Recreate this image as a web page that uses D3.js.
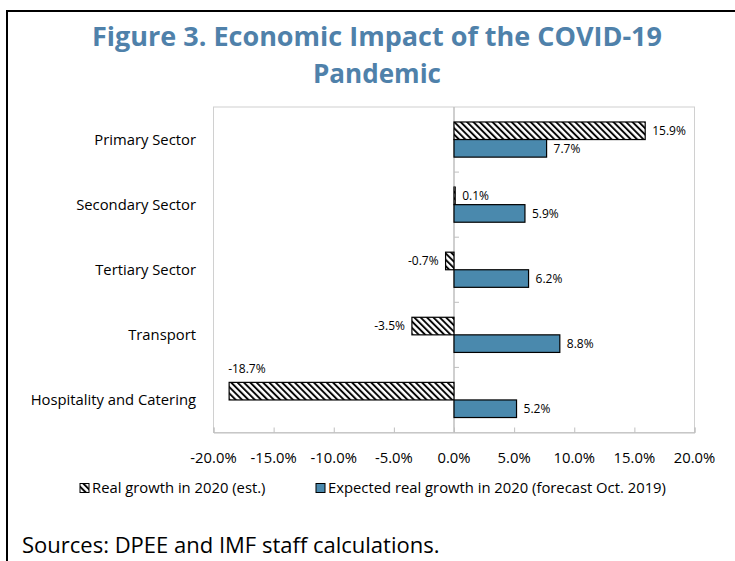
<!DOCTYPE html>
<html>
<head>
<meta charset="utf-8">
<script src="https://cdn.jsdelivr.net/npm/d3@7"></script>
<style>
  body { margin: 0; background: #fff; }
  text { font-family: "Open Sans", "Noto Sans", sans-serif; }
</style>
</head>
<body>
<script>
  // chart data
  var categories = ["Primary Sector", "Secondary Sector", "Tertiary Sector", "Transport", "Hospitality and Catering"];
  var realGrowth = [15.9, 0.1, -0.7, -3.5, -18.7];
  var expectedGrowth = [7.7, 5.9, 6.2, 8.8, 5.2];
  var seriesNames = ["Real growth in 2020 (est.)", "Expected real growth in 2020 (forecast Oct. 2019)"];
  var xTicks = [-20, -15, -10, -5, 0, 5, 10, 15, 20];

  var width = 735, height = 561;
  var blue = "#4a89ad";

  // plain hyphen instead of unicode minus
  var fmt = function(v) { return d3.format(".1f")(v).replace("\u2212", "-") + "%"; };

  var svg = d3.select("body").append("svg")
      .attr("width", width)
      .attr("height", height);

  // hatch pattern
  var defs = svg.append("defs");
  defs.append("pattern")
      .attr("id", "hatch")
      .attr("patternUnits", "userSpaceOnUse")
      .attr("width", 4.5).attr("height", 4.5)
      .attr("patternTransform", "rotate(-45)")
    .call(function(p) {
      p.append("rect").attr("width", 4.5).attr("height", 4.5).attr("fill", "#fff");
      p.append("line").attr("x1", 1).attr("y1", 0).attr("x2", 1).attr("y2", 4.5)
        .attr("stroke", "#000").attr("stroke-width", 1.9);
    });

  // frame
  svg.append("line").attr("x1", 6).attr("y1", 11).attr("x2", 735).attr("y2", 11)
    .attr("stroke", "#000").attr("stroke-width", 2);
  svg.append("line").attr("x1", 7).attr("y1", 10).attr("x2", 7).attr("y2", 561)
    .attr("stroke", "#000").attr("stroke-width", 2);

  // title
  var titleLines = ["Figure 3. Economic Impact of the COVID-19", "Pandemic"];
  var titleWidths = [570, 128];
  svg.selectAll(".title").data(titleLines).enter()
    .append("text")
      .attr("class", "title")
      .attr("x", 377)
      .attr("y", function(d, i) { return 46 + i * 37; })
      .attr("text-anchor", "middle")
      .attr("font-size", 27)
      .attr("font-weight", 700)
      .attr("fill", "#4f81aa")
      .attr("textLength", function(d, i) { return titleWidths[i]; })
      .attr("lengthAdjust", "spacingAndGlyphs")
      .text(function(d) { return d; });

  var plotLeft = 213.5, plotRight = 694.5, plotTop = 107, plotBottom = 432.5;

  var x = d3.scaleLinear().domain([-20, 20]).range([plotLeft, plotRight]);
  var y = d3.scaleBand().domain(categories).range([plotTop, plotBottom])
      .paddingInner(0.46).paddingOuter(0.23);
  var ySub = d3.scaleBand().domain([0, 1]).range([0, y.bandwidth()]);

  // plot box
  svg.append("rect")
    .attr("x", plotLeft).attr("y", plotTop)
    .attr("width", plotRight - plotLeft).attr("height", plotBottom - plotTop)
    .attr("fill", "none").attr("stroke", "#d0d0d0").attr("stroke-width", 1);

  // x axis
  var xAxis = svg.append("g")
      .attr("transform", "translate(0," + plotBottom + ")")
      .call(d3.axisTop(x).tickValues(xTicks).tickSize(5).tickFormat(""));
  xAxis.select(".domain").attr("stroke", "#bfbfbf");
  xAxis.selectAll(".tick line").attr("stroke", "#bfbfbf");

  svg.selectAll(".xlab").data(xTicks).enter()
    .append("text")
      .attr("class", "xlab")
      .attr("x", function(d) { return x(d); })
      .attr("y", 463)
      .attr("text-anchor", "middle")
      .attr("font-size", 14.8)
      .attr("fill", "#000")
      .text(fmt);

  // zero axis with ticks at band boundaries
  var step = y.step();
  var bounds = d3.range(1, categories.length).map(function(i) { return plotTop + i * step; });
  svg.append("line")
    .attr("x1", x(0)).attr("x2", x(0)).attr("y1", plotTop).attr("y2", plotBottom)
    .attr("stroke", "#bfbfbf").attr("stroke-width", 1.5);
  svg.selectAll(".ytick").data(bounds).enter()
    .append("line")
      .attr("x1", x(0)).attr("x2", x(0) + 5)
      .attr("y1", function(d) { return d; }).attr("y2", function(d) { return d; })
      .attr("stroke", "#bfbfbf");

  // category labels
  svg.selectAll(".cat").data(categories).enter()
    .append("text")
      .attr("class", "cat")
      .attr("x", 196)
      .attr("y", function(d) { return y(d) + y.bandwidth() / 2; })
      .attr("dy", "0.35em")
      .attr("text-anchor", "end")
      .attr("font-size", 14.8)
      .text(function(d) { return d; });

  var rows = [];
  categories.forEach(function(c, i) {
    rows.push({cat: c, s: 0, v: realGrowth[i]});
    rows.push({cat: c, s: 1, v: expectedGrowth[i]});
  });

  // bars
  svg.selectAll(".bar").data(rows).enter()
    .append("rect")
      .attr("class", "bar")
      .attr("x", function(d) { return x(Math.min(0, d.v)); })
      .attr("y", function(d) { return y(d.cat) + ySub(d.s); })
      .attr("width", function(d) { return Math.abs(x(d.v) - x(0)); })
      .attr("height", ySub.bandwidth())
      .attr("fill", function(d) { return d.s === 0 ? "url(#hatch)" : blue; })
      .attr("stroke", "#000")
      .attr("stroke-width", 1.2);

  // value labels (put above the bar when there is no room on the left)
  var tight = function(d) { return d.v < 0 && x(d.v) - plotLeft < 45; };
  svg.selectAll(".val").data(rows).enter()
    .append("text")
      .attr("class", "val")
      .attr("font-size", 12)
      .attr("dy", "0.35em")
      .attr("x", function(d) {
        if (d.v >= 0) return x(d.v) + 7;
        if (tight(d)) return x(d.v) - 1;
        return x(d.v) - 7;
      })
      .attr("y", function(d) {
        var cy = y(d.cat) + ySub(d.s) + ySub.bandwidth() / 2;
        return tight(d) ? cy - 22 : cy;
      })
      .attr("text-anchor", function(d) {
        return (d.v >= 0 || tight(d)) ? "start" : "end";
      })
      .text(function(d) { return fmt(d.v); });

  // legend
  var legendX = [80, 316];
  var legend = svg.selectAll(".leg").data(seriesNames).enter()
    .append("g")
      .attr("class", "leg")
      .attr("transform", function(d, i) { return "translate(" + legendX[i] + ",488)"; });
  legend.append("rect")
    .attr("x", 0).attr("y", -4.5).attr("width", 9).attr("height", 9)
    .attr("fill", function(d, i) { return i === 0 ? "url(#hatch)" : blue; })
    .attr("stroke", "#000").attr("stroke-width", 1);
  legend.append("text")
    .attr("x", 12).attr("dy", "0.35em")
    .attr("font-size", 14.8)
    .text(function(d) { return d; });

  // source note
  svg.append("text")
    .attr("x", 22).attr("y", 553)
    .attr("font-size", 22)
    .text("Sources: DPEE and IMF staff calculations.");
</script>
</body>
</html>
